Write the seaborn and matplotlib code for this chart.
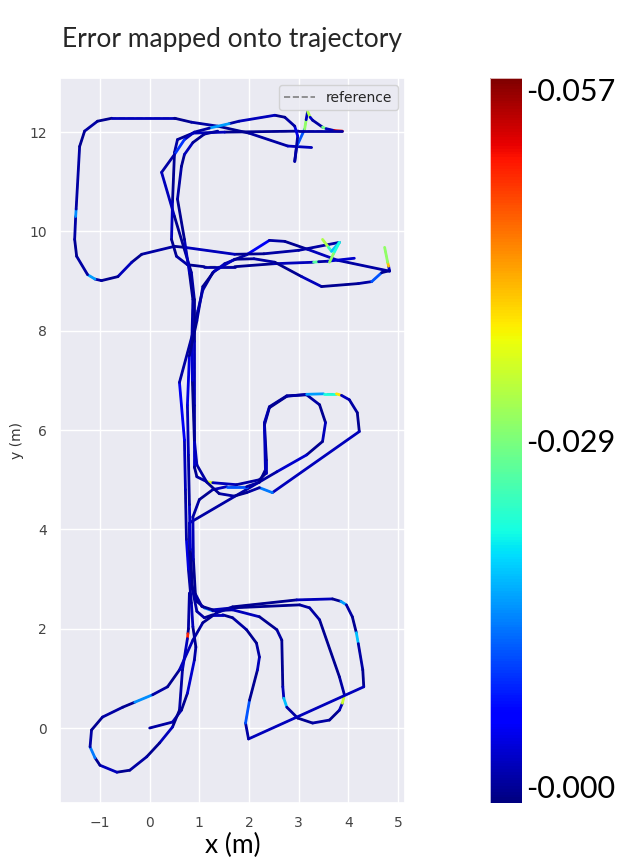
import numpy as np
import pandas as pd
import seaborn as sns
import matplotlib.pyplot as plt
from matplotlib.collections import LineCollection
from matplotlib.colors import Normalize
from matplotlib.cm import ScalarMappable
from matplotlib.lines import Line2D

# trajectory pieces: (x, y, error)
start_run = [(0.0, 0.0, 0.002), (0.46, 0.12, 0.003), (0.64, 0.36, 0.001), (0.76, 0.7, 0.004),
             (0.9, 1.37, 0.002), (0.93, 1.63, 0.001), (0.87, 2.04, 0.003), (0.84, 2.52, 0.002),
             (0.78, 3.2, 0.005), (0.74, 3.8, 0.002), (0.72, 4.8, 0.003), (0.7, 5.8, 0.006),
             (0.6, 6.96, 0.002), (0.87, 7.96, 0.001), (0.97, 8.4, 0.004), (1.07, 8.82, 0.002),
             (1.27, 9.17, 0.003), (1.51, 9.35, 0.002), (1.95, 9.53, 0.006), (2.41, 9.82, 0.002),
             (2.72, 9.8, 0.001), (3.18, 9.64, 0.003), (3.78, 9.42, 0.002), (4.83, 9.2, 0.004),
             (4.81, 9.3, 0.040), (4.79, 9.38, 0.030), (4.73, 9.68, 0.002)]

big_loop = [(3.82, 9.78, 0.002), (3.0, 9.62, 0.002), (2.3, 9.55, 0.001), (1.71, 9.54, 0.003),
            (0.7, 9.68, 0.001), (0.5, 9.7, 0.002), (-0.16, 9.54, 0.001), (-0.36, 9.38, 0.003),
            (-0.64, 9.09, 0.001), (-0.97, 9.01, 0.002), (-1.1, 9.04, 0.016), (-1.25, 9.13, 0.002),
            (-1.47, 9.5, 0.001), (-1.51, 9.84, 0.002), (-1.49, 10.3, 0.015), (-1.48, 10.45, 0.002),
            (-1.41, 11.71, 0.001), (-1.31, 12.02, 0.002), (-1.05, 12.22, 0.001), (-0.76, 12.28, 0.003),
            (0.5, 12.28, 0.001), (0.84, 12.2, 0.002), (1.37, 12.12, 0.001), (2.0, 11.98, 0.002),
            (2.78, 11.72, 0.003), (3.26, 11.69, 0.001)]

top_cusp = [(2.92, 11.41, 0.002), (2.96, 11.71, 0.012), (3.12, 12.06, 0.030), (3.15, 12.25, 0.003),
            (3.18, 12.42, 0.032), (3.23, 12.3, 0.004), (3.28, 12.24, 0.002), (3.48, 12.1, 0.028),
            (3.55, 12.07, 0.003), (3.72, 12.03, 0.052), (3.88, 12.02, 0.002), (3.0, 12.02, 0.001),
            (1.51, 12.0, 0.003), (0.87, 11.98, 0.001), (0.56, 11.85, 0.002), (0.5, 11.59, 0.001),
            (0.46, 10.6, 0.003), (0.44, 9.84, 0.001), (0.54, 9.5, 0.002), (0.76, 9.33, 0.001),
            (1.1, 9.29, 0.002), (1.71, 9.29, 0.001), (2.5, 9.35, 0.003), (3.3, 9.38, 0.026),
            (3.4, 9.39, 0.002), (3.58, 9.4, 0.004), (4.12, 9.46, 0.002)]

star = [(3.48, 9.84, 0.032), (3.6, 9.68, 0.024), (3.66, 9.6, 0.018), (3.82, 9.78, 0.022),
        (3.7, 9.55, 0.030), (3.62, 9.38, 0.002)]

top_arc = [(2.92, 11.41, 0.002), (2.98, 11.92, 0.005), (2.92, 12.12, 0.002), (2.72, 12.3, 0.001),
           (2.52, 12.34, 0.003), (1.8, 12.22, 0.002), (1.6, 12.17, 0.016), (1.2, 12.08, 0.002),
           (0.9, 12.0, 0.003), (0.7, 11.85, 0.010), (0.5, 11.55, 0.002), (0.24, 11.19, 0.003),
           (0.5, 10.3, 0.001), (0.84, 9.17, 0.002), (0.9, 8.63, 0.001), (0.9, 7.8, 0.003),
           (0.9, 6.5, 0.002), (0.9, 5.8, 0.004), (0.9, 5.26, 0.001)]

mid_inner = [(0.9, 5.26, 0.001), (0.95, 5.06, 0.002), (1.15, 4.96, 0.035), (1.27, 4.94, 0.003),
             (1.75, 4.9, 0.002), (2.21, 5.0, 0.001), (2.35, 5.14, 0.003), (2.35, 5.4, 0.001),
             (2.31, 6.15, 0.004), (2.41, 6.47, 0.002), (2.76, 6.69, 0.001), (3.16, 6.71, 0.002),
             (3.42, 6.51, 0.001), (3.54, 6.15, 0.003), (3.48, 5.77, 0.001), (3.16, 5.5, 0.004),
             (2.56, 5.16, 0.002), (0.8, 4.13, 0.001), (0.8, 3.5, 0.003), (0.84, 2.9, 0.002),
             (0.95, 2.55, 0.001), (1.1, 2.42, 0.002)]

mid_bottom = [(1.1, 2.42, 0.014), (1.27, 2.36, 0.002), (1.67, 2.38, 0.003), (2.21, 2.24, 0.001),
              (2.56, 1.98, 0.002), (2.66, 1.77, 0.001), (2.68, 0.83, 0.003), (2.7, 0.6, 0.018),
              (2.76, 0.42, 0.002), (2.98, 0.2, 0.001), (3.28, 0.1, 0.002), (3.62, 0.16, 0.001),
              (3.82, 0.36, 0.003), (3.88, 0.5, 0.034), (3.92, 0.67, 0.002), (3.82, 1.03, 0.001),
              (3.42, 2.18, 0.002), (3.22, 2.42, 0.002), (3.02, 2.48, 0.001), (1.67, 2.42, 0.003),
              (1.27, 2.38, 0.001), (1.05, 2.45, 0.002), (0.92, 2.7, 0.001), (0.88, 3.4, 0.003),
              (0.87, 4.25, 0.002)]

mid_outer = [(0.87, 4.25, 0.002), (1.0, 4.6, 0.001), (1.27, 4.8, 0.003), (1.55, 4.86, 0.012),
             (1.95, 4.86, 0.002), (2.21, 4.95, 0.001), (2.33, 5.2, 0.003), (2.31, 6.1, 0.002),
             (2.41, 6.45, 0.001), (2.76, 6.68, 0.002), (3.16, 6.72, 0.016), (3.5, 6.73, 0.022),
             (3.76, 6.73, 0.038), (3.86, 6.7, 0.003), (4.02, 6.61, 0.002), (4.18, 6.35, 0.001),
             (4.22, 5.97, 0.003), (2.47, 4.74, 0.014), (2.21, 4.84, 0.002), (1.95, 4.74, 0.001),
             (1.7, 4.67, 0.002), (1.4, 4.72, 0.001), (1.15, 4.95, 0.002), (0.95, 5.3, 0.003),
             (0.9, 5.8, 0.001), (0.86, 7.0, 0.004), (0.85, 7.8, 0.002), (0.87, 8.63, 0.001),
             (0.8, 9.17, 0.003), (0.7, 9.84, 0.001), (0.56, 10.65, 0.002), (0.64, 11.31, 0.001),
             (0.7, 11.55, 0.003), (0.87, 11.79, 0.001), (1.1, 11.96, 0.002), (1.37, 12.02, 0.001)]

teardrop = [(0.8, 2.72, 0.002), (0.78, 2.0, 0.001), (0.77, 1.9, 0.050), (0.76, 1.8, 0.003),
            (0.66, 1.17, 0.002), (0.6, 0.36, 0.001), (0.46, 0.02, 0.003), (0.2, -0.3, 0.001),
            (-0.06, -0.58, 0.002), (-0.4, -0.85, 0.001), (-0.66, -0.89, 0.003), (-1.0, -0.75, 0.001),
            (-1.1, -0.6, 0.014), (-1.2, -0.38, 0.002), (-1.17, -0.04, 0.001), (-0.95, 0.22, 0.002),
            (-0.54, 0.42, 0.001), (-0.3, 0.52, 0.015), (0.06, 0.67, 0.002), (0.36, 0.83, 0.001),
            (0.6, 1.17, 0.003), (0.87, 1.77, 0.002), (1.07, 2.12, 0.001), (1.35, 2.32, 0.002)]

bottom_outer = [(1.35, 2.32, 0.002), (1.67, 2.44, 0.001), (2.96, 2.58, 0.003), (3.68, 2.6, 0.001),
                (3.85, 2.55, 0.016), (3.96, 2.48, 0.002), (4.08, 2.24, 0.001), (4.16, 1.92, 0.018),
                (4.2, 1.7, 0.002), (4.29, 1.17, 0.001), (4.31, 0.83, 0.003), (1.99, -0.22, 0.002),
                (1.93, 0.1, 0.012), (2.01, 0.56, 0.001), (2.17, 1.17, 0.003), (2.21, 1.43, 0.002),
                (2.15, 1.71, 0.001), (1.95, 1.98, 0.002), (1.67, 2.22, 0.001), (1.47, 2.28, 0.003),
                (1.27, 2.28, 0.001), (1.1, 2.22, 0.002), (0.95, 2.35, 0.001)]

corridor_up = [(0.95, 2.35, 0.002), (0.86, 2.8, 0.001), (0.82, 3.6, 0.004), (0.8, 4.5, 0.002),
               (0.78, 5.5, 0.003), (0.76, 6.5, 0.005), (0.8, 7.5, 0.001), (0.95, 8.2, 0.002),
               (1.07, 8.89, 0.001), (1.3, 9.2, 0.003), (1.71, 9.44, 0.001), (2.1, 9.45, 0.002),
               (2.52, 9.38, 0.001), (3.06, 9.09, 0.003), (3.46, 8.89, 0.001), (4.2, 8.95, 0.002),
               (4.47, 8.99, 0.012), (4.67, 9.17, 0.001), (4.83, 9.21, 0.002)]

pieces = [start_run, big_loop, top_cusp, star, top_arc, mid_inner, mid_bottom,
          mid_outer, teardrop, bottom_outer, corridor_up]

err_max = 0.057
cbar_ticks = [0.0, 0.0285, 0.057]
cbar_labels = ['-0.000', '-0.029', '-0.057']

rows = []
for k, p in enumerate(pieces):
    for i, (x, y, e) in enumerate(p):
        rows.append({'piece': k, 'order': i, 'x': x, 'y': y, 'err': e})
traj = pd.DataFrame(rows)

sns.set_theme(style='darkgrid')
fig = plt.figure(figsize=(6.3, 8.64), dpi=100)
ax = fig.add_axes([60 / 630, 61 / 864, 345 / 630, 725 / 864])

# reference (dashed grey) under the coloured trajectory
sns.lineplot(data=traj, x='x', y='y', units='piece', estimator=None, sort=False,
             color='grey', linestyle='--', linewidth=1.2, ax=ax, legend=False)

norm = Normalize(0, err_max)
for k, g in traj.groupby('piece'):
    pts = g[['x', 'y']].to_numpy()
    segs = np.stack([pts[:-1], pts[1:]], axis=1)
    lc = LineCollection(segs, cmap='jet', norm=norm, linewidth=2.0, capstyle='round',
                        joinstyle='round')
    lc.set_array(g['err'].to_numpy()[:-1])
    ax.add_collection(lc)

ax.set_xlim(-1.805, 5.14)
ax.set_ylim(-1.51, 13.09)
ax.set_xticks(range(-1, 6))
ax.set_yticks(range(0, 13, 2))
ax.tick_params(labelsize=10, colors='#444444')
ax.set_xlabel('x (m)', fontsize=19, family='Lato', color='black', labelpad=2)
ax.set_ylabel('y (m)', fontsize=10, color='#333333')

ax.legend(handles=[Line2D([], [], color='grey', linestyle='--', linewidth=1.2)],
          labels=['reference'], loc='upper right', fontsize=10, frameon=True,
          facecolor='#EAEAF2', edgecolor='#cccccc', handlelength=2.2)

fig.text(232 / 630, 1 - 40 / 864, 'Error mapped onto trajectory', ha='center', va='center',
         fontsize=19, family='Lato')

cax = fig.add_axes([490 / 630, 61 / 864, 32 / 630, 725 / 864])
sm = ScalarMappable(norm=norm, cmap='jet')
cb = fig.colorbar(sm, cax=cax)
cb.set_ticks(cbar_ticks)
cb.set_ticklabels(cbar_labels)
cb.ax.tick_params(length=0, labelsize=22, pad=3)
cb.outline.set_linewidth(0.5)
labs = cb.ax.get_yticklabels()
labs[0].set_va('bottom')
labs[-1].set_va('top')
for t in labs:
    t.set_family('Lato')
    t.set_color('black')

fig.savefig('out.png', dpi=100)
